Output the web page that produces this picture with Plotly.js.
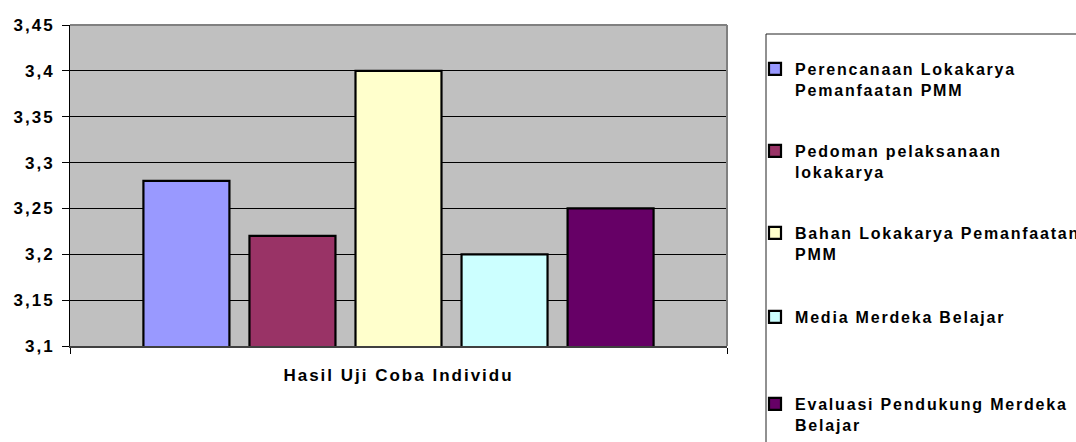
<!DOCTYPE html>
<html>
<head>
<meta charset="utf-8">
<script src="https://cdn.plot.ly/plotly-3.0.1.min.js"></script>
<style>
  html, body { margin: 0; padding: 0; background: #fff; }
  #chart { width: 1076px; height: 442px; }
  #chart .main-svg .xtick text, #chart .main-svg .ytick text { letter-spacing: 2px; }
  #chart .main-svg .infolayer text { letter-spacing: 1.8px; }
</style>
</head>
<body>
<div id="chart"></div>
<script>
const category = ["Hasil Uji Coba Individu"];
const seriesNames = [
  "Perencanaan Lokakarya<br>Pemanfaatan PMM",
  "Pedoman pelaksanaan<br>lokakarya",
  "Bahan Lokakarya Pemanfaatan<br>PMM",
  "Media Merdeka Belajar",
  "Evaluasi Pendukung Merdeka<br>Belajar"
];
const seriesValues = [3.28, 3.22, 3.40, 3.20, 3.25];
const seriesColors = ["#9999FF", "#993366", "#FFFFCC", "#CCFFFF", "#660066"];
const yTickValues = [3.1, 3.15, 3.2, 3.25, 3.3, 3.35, 3.4, 3.45];

const W = 1076, H = 442;
const legendTops = [52, 134, 216, 300, 387]; // px from top of page
const legendIds = ["legend", "legend2", "legend3", "legend4", "legend5"];

const traces = seriesNames.map((name, i) => ({
  type: "bar",
  name: name,
  x: category,
  y: [seriesValues[i]],
  marker: { color: seriesColors[i], line: { color: "#000000", width: 2.2 } },
  legend: legendIds[i],
  hoverinfo: "skip"
}));

const font = { family: "Liberation Sans, Arial, sans-serif", size: 17, color: "#000", weight: 700 };
const legendFont = { family: "Liberation Sans, Arial, sans-serif", size: 16, color: "#000", weight: 700 };

const layout = {
  width: W, height: H,
  margin: { l: 70, r: 349, t: 25, b: 96, pad: 0, autoexpand: false },
  paper_bgcolor: "#ffffff",
  plot_bgcolor: "#C0C0C0",
  separators: ", ",
  barmode: "group",
  bargap: 0.193,
  bargroupgap: 0.189,
  font: font,
  xaxis: {
    type: "category",
    showgrid: false,
    showline: true, linecolor: "#404040", linewidth: 2,
    ticks: "outside", tickson: "boundaries", ticklen: 6, tickcolor: "#000", tickwidth: 1,
    tickfont: font,
    ticklabelstandoff: 13,
    automargin: false,
    fixedrange: true
  },
  yaxis: {
    range: [3.1, 3.45],
    tickvals: yTickValues,
    tickformat: ".2~f",
    showgrid: true, gridcolor: "#000000", gridwidth: 1,
    zeroline: false,
    showline: true, linecolor: "#000", linewidth: 1,
    ticks: "outside", ticklen: 7, tickcolor: "#000",
    tickfont: font,
    ticklabelstandoff: 4,
    automargin: false,
    fixedrange: true
  },
  shapes: [
    { type: "line", xref: "paper", yref: "paper", x0: 0, x1: 1, y0: 1, y1: 1, line: { color: "#808080", width: 2 } },
    { type: "line", xref: "paper", yref: "paper", x0: 1, x1: 1, y0: 0, y1: 1, line: { color: "#808080", width: 2 } },
    { type: "rect", xref: "paper", yref: "paper",
      x0: (766 - 70) / 657, x1: (1100 - 70) / 657,
      y0: (346 - 460) / 321, y1: (346 - 34) / 321,
      line: { color: "#222", width: 1 }, fillcolor: "rgba(0,0,0,0)" }
  ],
  showlegend: true
};

legendIds.forEach((id, i) => {
  layout[id] = {
    xref: "container", yref: "container",
    x: 755 / W, xanchor: "left",
    y: 1 - legendTops[i] / H, yanchor: "top",
    orientation: "h",
    entrywidth: 340, entrywidthmode: "pixels",
    bgcolor: "rgba(0,0,0,0)", borderwidth: 0,
    font: legendFont,
    valign: "top",
    itemclick: false, itemdoubleclick: false
  };
});

Plotly.newPlot("chart", traces, layout, { displayModeBar: false, staticPlot: true });
</script>
</body>
</html>
